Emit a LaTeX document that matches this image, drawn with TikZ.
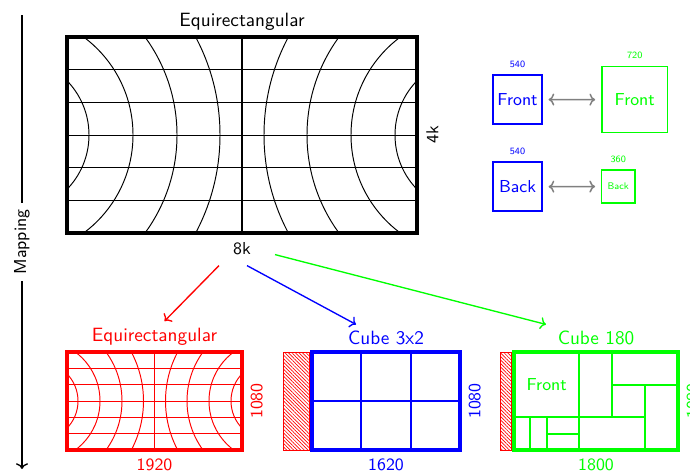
\documentclass[tikz,border=0pt]{standalone}
\usepackage{tikz}
\usetikzlibrary{arrows.meta,positioning,calc,patterns.meta}
\renewcommand{\familydefault}{\sfdefault}
\tikzset{
  eqframe/.style={draw,line width=1.7pt,inner sep=0pt},
  outframe/.style={draw,line width=2pt,inner sep=0pt,minimum height=50.96pt},
  gridline/.style={line width=0.5pt},
  midline/.style={line width=0.9pt},
  cellline/.style={line width=0.9pt},
  padbox/.style={draw=red,line width=0.5pt,inner sep=0pt,minimum height=50.96pt,
    pattern={Lines[angle=-45,distance=1.3pt,line width=0.35pt]},pattern color=red},
  facebox/.style={draw,line width=0.8pt,inner sep=0pt},
  sizelbl/.style={font=\tiny},
  dimlbl/.style={font=\small},
  maparr/.style={-{To[length=3pt]},line width=0.7pt},
  swaparr/.style={{To[length=3pt]}-{To[length=3pt]},line width=0.8pt,draw=gray,
    shorten <=3pt,shorten >=3pt}
}
\begin{document}
\begin{tikzpicture}[x=0.52pt,y=-0.52pt]
  \useasboundingbox (0,0) rectangle (690,471);
  % equirectangular grids (source and 1920 output)
  \foreach \gx/\gy/\gs/\gc in {67/37/1/black,67/352/0.5/red}{
    \begin{scope}[shift={(\gx,\gy)},scale=\gs,color=\gc]
      \clip (0,0) rectangle (350,196);
      \foreach \k in {1,...,5} \draw[gridline] (0,{\k*196/6}) -- (350,{\k*196/6});
      \draw[midline] (175,0) -- (175,196);
      \foreach \r in {78,122,166,209}{
        \draw[gridline] (-56,98) circle[radius=\r];
        \draw[gridline] (406,98) circle[radius=\r];
      }
    \end{scope}
  }
  \node[eqframe,minimum width=182pt,minimum height=101.92pt] (eq) at (242,135) {};
  \node[above=-1pt of eq] (eqt) {Equirectangular};
  \node[dimlbl,below=0.5pt of eq] (ek) {8k};
  \node[dimlbl,rotate=90,anchor=north] (fk) at ($(eq.east)+(1,0)$) {4k};
  % mapping axis
  \coordinate (mtop) at (22,15);
  \coordinate (mbot) at (22,469);
  \draw[maparr] (mtop) -- node[dimlbl,fill=white,rotate=90] (maplbl) {Mapping} (mbot);
  % face sizes
  \node[facebox,draw=blue,text=blue,minimum size=25.5pt,font=\small] (bfront) at (517.5,99.5) {Front};
  \node[sizelbl,text=blue,above=0pt of bfront] {540};
  \node[facebox,draw=green,text=green,minimum size=34.3pt,font=\small] (gfront) at (634.7,99.7) {Front};
  \node[sizelbl,text=green,above=0pt of gfront] {720};
  \node[facebox,draw=blue,text=blue,minimum size=25.5pt,font=\small] (bback) at (517.5,186.7) {Back};
  \node[sizelbl,text=blue,above=0pt of bback] {540};
  \node[facebox,draw=green,text=green,minimum size=17.2pt,font=\tiny] (gback) at (618.2,186.5) {Back};
  \node[sizelbl,text=green,above=0pt of gback] {360};
  \draw[swaparr] (bfront) -- (gfront);
  \draw[swaparr] (bback) -- (gback);
  % output 1: equirectangular
  \node[outframe,draw=red,minimum width=91pt] (eqs) at (154.5,401) {};
  \node[text=red,above=-1pt of eqs] (eqst) {Equirectangular};
  \node[dimlbl,text=red,below=0pt of eqs] {1920};
  \node[dimlbl,text=red,rotate=90,anchor=north] at (eqs.east) {1080};
  % output 2: cube 3x2
  \node[outframe,draw=blue,minimum width=76.96pt] (cb) at (386,401) {};
  \node[padbox,left=0pt of cb,minimum width=13.5pt] (cbpad) {};
  \foreach \f in {1/3,2/3}
    \draw[cellline,blue] ($(cb.north west)!\f!(cb.north east)$) -- ($(cb.south west)!\f!(cb.south east)$);
  \draw[cellline,blue] (cb.west) -- (cb.east);
  \node[text=blue,above=-1pt of cb] (cbt) {Cube 3x2};
  \node[dimlbl,text=blue,below=0pt of cb] {1620};
  \node[dimlbl,text=blue,rotate=90,anchor=north] at (cb.east) {1080};
  % output 3: cube 180
  \node[outframe,draw=green,minimum width=85.28pt] (cg) at (596,401) {};
  \node[padbox,left=0pt of cg,minimum width=5.6pt] (cgpad) {};
  \begin{scope}[shift={(514,352)},scale=0.090741,green,cellline]
    \draw (720,0) -- (720,1080);
    \draw (0,720) -- (1440,720);
    \draw (1080,0) -- (1080,720);
    \draw (1080,360) -- (1800,360);
    \draw (1440,360) -- (1440,1080);
    \draw (180,720) -- (180,1080);
    \draw (360,720) -- (360,1080);
    \draw (360,900) -- (720,900);
    \node[dimlbl] (cgfront) at (360,360) {Front};
  \end{scope}
  \node[text=green,above=-1pt of cg] (cgt) {Cube 180};
  \node[dimlbl,text=green,below=0pt of cg] {1800};
  \node[dimlbl,text=green,rotate=90,anchor=north] at (cg.east) {1080};
  % mapping arrows
  \coordinate (rs) at ($(ek)+(-23,17)$);
  \coordinate (bs) at ($(ek)+(5,17)$);
  \coordinate (gs) at ($(ek)+(33,6)$);
  \draw[maparr,red] (rs) -- ($(eqst.north)+(10,0)$);
  \draw[maparr,blue] (bs) -- ($(cbt.north)+(-30,0)$);
  \draw[maparr,green] (gs) -- ($(cgt.north)+(-50,0)$);
\end{tikzpicture}
\end{document}
